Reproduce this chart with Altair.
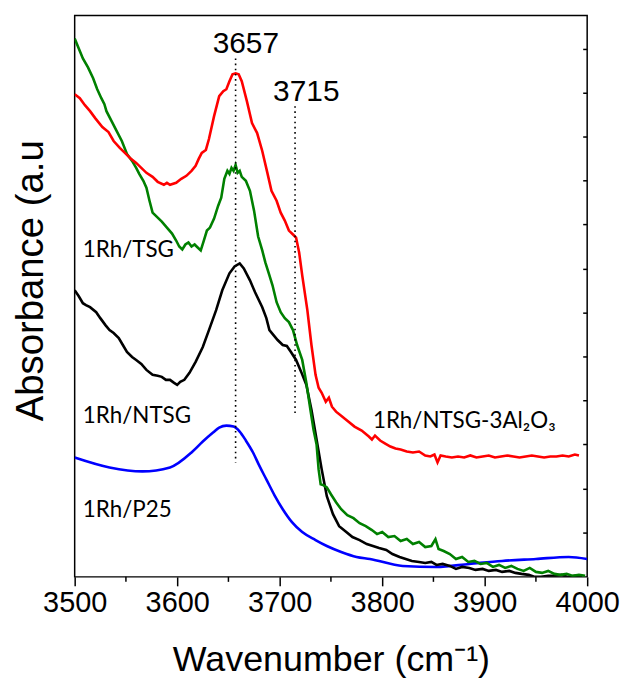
import altair as alt
import pandas as pd

# ---------------- data (absorbance in arbitrary units) ----------------
red_wn = [3500, 3505, 3510, 3515, 3520, 3527, 3533, 3538, 3544, 3549, 3554, 3560, 3565, 3570, 3576, 3581,
          3587, 3590, 3593, 3599, 3604, 3609, 3614, 3618, 3621, 3624, 3628, 3631, 3636, 3641, 3645, 3648,
          3651, 3654, 3657, 3660, 3663, 3668, 3673, 3678, 3683, 3688, 3692, 3697, 3701, 3705, 3709, 3713,
          3716, 3719, 3722, 3727, 3731, 3735, 3738, 3741, 3745, 3748, 3751, 3755, 3760, 3766, 3773, 3780,
          3787, 3790, 3793, 3798, 3803, 3808, 3813, 3818, 3824, 3830, 3836, 3842, 3847, 3851, 3854, 3857,
          3862, 3868, 3874, 3880, 3886, 3892, 3898, 3904, 3910, 3916, 3922, 3928, 3934, 3940, 3946, 3952,
          3958, 3964, 3970, 3976, 3982, 3988, 3992]
red_ab = [485, 481, 474, 468, 461, 452, 447, 438, 431, 426, 421, 416, 411, 406, 402, 397,
          394, 396, 394, 396, 400, 403, 408, 413, 420, 426, 429, 440, 463, 483, 488, 490,
          498, 505, 506, 505, 498, 478, 456, 446, 428, 406, 388, 378, 366, 358, 348, 344,
          341, 326, 303, 268, 233, 203, 190, 185, 176, 180, 171, 166, 162, 157, 151, 147,
          141, 138, 142, 137, 134, 131, 129, 128, 126, 125, 126, 122, 121, 123, 115, 122,
          121, 120, 121, 120, 122, 120, 121, 122, 120, 121, 122, 121, 120, 121, 122, 121,
          120, 121, 121, 122, 121, 123, 122]

green_wn = [3500, 3504, 3508, 3513, 3518, 3522, 3526, 3529, 3531, 3536, 3541, 3546, 3551, 3556, 3560, 3563,
            3567, 3570, 3573, 3576, 3580, 3585, 3590, 3595, 3599, 3602, 3605, 3608, 3611, 3614, 3617, 3620,
            3623, 3626, 3629, 3632, 3636, 3640, 3643, 3646, 3649, 3651, 3653, 3655, 3657, 3659, 3661, 3663,
            3667, 3671, 3675, 3679, 3683, 3686, 3690, 3693, 3697, 3701, 3705, 3709, 3713, 3717, 3722, 3726,
            3730, 3733, 3736, 3738, 3740, 3743, 3746, 3750, 3755, 3760, 3766, 3772, 3778, 3784, 3790, 3795,
            3800, 3806, 3812, 3818, 3824, 3830, 3836, 3842, 3848, 3852, 3855, 3860, 3866, 3872, 3878, 3884,
            3890, 3896, 3902, 3908, 3914, 3920, 3926, 3932, 3938, 3944, 3950, 3956, 3962, 3968, 3974, 3980,
            3986, 3992, 3998]
green_ab = [541, 531, 521, 512, 501, 490, 481, 475, 468, 458, 448, 438, 425, 418, 411, 405,
            398, 391, 378, 366, 362, 357, 351, 345, 338, 332, 329, 334, 336, 332, 334, 331,
            328, 338, 348, 351, 360, 373, 381, 400, 408, 405, 411, 408, 414, 406, 408, 402,
            398, 388, 368, 342, 328, 316, 303, 293, 276, 266, 260, 256, 248, 233, 218, 195,
            168, 148, 133, 108, 93, 92, 90, 83, 75, 68, 62, 59, 54, 51, 47, 43,
            45, 40, 41, 36, 38, 33, 35, 30, 31, 38, 28, 26, 23, 18, 20, 15,
            16, 13, 14, 10, 12, 9, 11, 8, 6, 9, 5, 4, 6, 3, 2, 3,
            1, 2, 1]

black_wn = [3500, 3504, 3508, 3511, 3515, 3521, 3525, 3530, 3534, 3538, 3543, 3547, 3551, 3556, 3560, 3565,
            3570, 3576, 3581, 3585, 3589, 3593, 3597, 3600, 3603, 3607, 3612, 3618, 3625, 3631, 3638, 3644,
            3651, 3656, 3661, 3665, 3671, 3676, 3683, 3687, 3690, 3694, 3698, 3703, 3707, 3711, 3716, 3721,
            3726, 3731, 3736, 3741, 3746, 3752, 3758, 3765, 3771, 3778, 3785, 3791, 3797, 3804, 3810, 3817,
            3823, 3829, 3836, 3842, 3848, 3853, 3859, 3866, 3872, 3878, 3885, 3891, 3898, 3904, 3911, 3917,
            3924, 3930, 3936, 3943, 3949, 3955, 3962, 3968, 3975, 3981, 3988, 3995]
black_ab = [288, 282, 275, 273, 271, 266, 260, 253, 248, 245, 240, 233, 226, 221, 218, 214,
            208, 203, 202, 201, 198, 198, 195, 193, 196, 198, 205, 216, 231, 248, 268, 288,
            305, 312, 315, 310, 298, 286, 271, 260, 248, 243, 238, 233, 232, 226, 218, 206,
            193, 168, 138, 108, 81, 63, 51, 45, 40, 37, 33, 31, 29, 27, 23, 20,
            18, 16, 15, 14, 15, 12, 13, 11, 8, 10, 9, 7, 8, 6, 7, 5,
            6, 4, 3, 2, 0, 0, 1, 1, 2, 0, 1, 1]

blue_wn = [3500, 3534, 3566, 3593, 3615, 3625, 3635, 3641, 3648, 3655, 3661, 3667, 3674, 3680, 3687, 3695,
           3703, 3712, 3722, 3735, 3746, 3760, 3775, 3788, 3820, 3853, 3885, 3917, 3950, 3982, 4000]
blue_ab = [120, 110, 106, 110, 126, 136, 145, 150, 152, 151, 146, 137, 125, 112, 98, 82,
           68, 55, 45, 37, 31, 25, 20, 18, 11, 10, 13, 16, 18, 20, 18]

series_names = ["1Rh/P25", "1Rh/NTSG", "1Rh/TSG", "1Rh/NTSG-3Al2O3"]
series_colors = ["#0000ff", "#000000", "#008000", "#ff0000"]

x_ticks = [3500, 3600, 3700, 3800, 3900, 4000]
x_minor = [3550, 3650, 3750, 3850, 3950]
y_ticks = [44, 88, 133, 177, 221, 265, 309, 354, 398, 442, 486, 530]

peak_wn = [3657, 3715]
peak_top = [521, 473]
peak_bottom = [115, 163]
peak_text = ["3657", "3715"]
peak_label_wn = [3667, 3726]
peak_label_ab = [526, 478]

label_text = ["1Rh/TSG", "1Rh/NTSG", "1Rh/P25", "1Rh/NTSG-3Al\u2082O\u2083"]
label_wn = [3508, 3508, 3508, 3791]
label_ab = [321, 155, 60, 150]

# ---------------- chart ----------------
W, H = 515, 564
xs = alt.Scale(domain=[3500, 4000], nice=False, zero=False)
ys = alt.Scale(domain=[0, 564], nice=False, zero=False)

x_axis = alt.Axis(values=x_ticks, format="d", tickSize=9, tickWidth=1.5, tickColor="black",
                  domain=False, grid=False, labelPadding=3, labelFontSize=29, labelFlush=False,
                  title="Wavenumber (cm\u207b\u00b9)", titleFontSize=36, titleY=83,
                  titleBaseline="middle")
y_axis = alt.Axis(labels=False, ticks=False, domain=False, grid=False,
                  title="Absorbance (a.u", titleFontSize=38.5, titleX=-44, titleY=266,
                  titleAlign="center", titleBaseline="middle")


def curve(wn, ab, color, interp="linear"):
    df = pd.DataFrame({"wn": wn, "ab": ab})
    return alt.Chart(df).mark_line(color=color, strokeWidth=2.6, interpolate=interp, clip=True).encode(
        x=alt.X("wn:Q", scale=xs, axis=x_axis),
        y=alt.Y("ab:Q", scale=ys, axis=y_axis),
    )


blue = curve(blue_wn, blue_ab, series_colors[0], "monotone")
black = curve(black_wn, black_ab, series_colors[1])
green = curve(green_wn, green_ab, series_colors[2])
red = curve(red_wn, red_ab, series_colors[3])

peaks_df = pd.DataFrame({"wn": peak_wn, "top": peak_top, "bottom": peak_bottom, "t": peak_text,
                         "lwn": peak_label_wn, "lab": peak_label_ab})
peak_rules = alt.Chart(peaks_df).mark_rule(color="black", strokeWidth=1.6, strokeDash=[1.6, 3.6]).encode(
    x=alt.X("wn:Q", scale=xs), y=alt.Y("top:Q", scale=ys), y2="bottom:Q")
peak_labels = alt.Chart(peaks_df).mark_text(font="Liberation Sans", fontSize=30, color="black",
                                            align="center", baseline="alphabetic").encode(
    x=alt.X("lwn:Q", scale=xs), y=alt.Y("lab:Q", scale=ys), text="t:N")

lab_df = pd.DataFrame({"t": label_text, "wn": label_wn, "ab": label_ab})
series_labels = alt.Chart(lab_df).mark_text(font="Lato", fontSize=22.5, color="black",
                                            align="left", baseline="alphabetic").encode(
    x=alt.X("wn:Q", scale=xs), y=alt.Y("ab:Q", scale=ys), text="t:N")

minor_df = pd.DataFrame({"wn": x_minor})
minor_ticks = alt.Chart(minor_df).mark_rule(color="black", strokeWidth=1.5).encode(
    x=alt.X("wn:Q", scale=xs), y=alt.value(H), y2=alt.value(H + 5))

rt_df = pd.DataFrame({"ab": y_ticks})
right_ticks = alt.Chart(rt_df).mark_rule(color="black", strokeWidth=1.5).encode(
    y=alt.Y("ab:Q", scale=ys), x=alt.value(W - 4), x2=alt.value(W))

chart = alt.layer(
    blue, black, green, red, peak_rules, peak_labels, series_labels, minor_ticks, right_ticks
).properties(
    width=W, height=H,
    autosize=alt.AutoSizeParams(type="none"),
    padding={"left": 67, "top": 6, "right": 35, "bottom": 106},
).configure_view(
    stroke="black", strokeWidth=1.5
).configure_axis(
    labelFont="Liberation Sans", titleFont="Liberation Sans", labelColor="black", titleColor="black",
    titleFontWeight="normal"
)

chart.save("out.html", embed_options={"renderer": "svg", "actions": False})
